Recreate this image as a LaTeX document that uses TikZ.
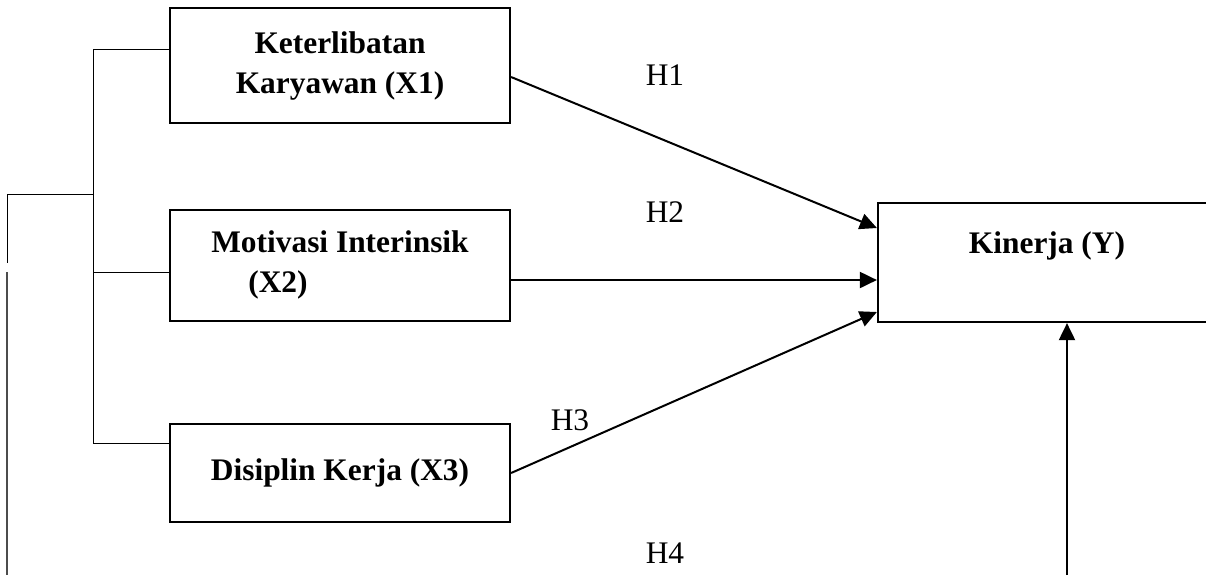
\documentclass[tikz,border=0pt]{standalone}
\usepackage{fontspec}
\setmainfont{Liberation Serif}
\usetikzlibrary{arrows.meta, positioning, calc}

\begin{document}
\begin{tikzpicture}[x=0.5pt, y=-0.5pt,
    varbox/.style={draw, line width=1.1pt, inner sep=0pt, align=center,
      font=\fontsize{15.7}{20}\selectfont\bfseries},
    hlabel/.style={inner sep=0pt, font=\fontsize{15.7}{20}\selectfont},
    link/.style={line width=0.5pt},
    arr/.style={line width=1pt, -{Triangle[length=8.5pt, width=8pt]}}]
  \useasboundingbox (0,0) rectangle (1206,575);

  % variabel bebas
  \node[varbox, minimum width=170pt, minimum height=57.5pt] (x1) at (340,65.5)
    {Keterlibatan\\Karyawan (X1)};
  \node[varbox, minimum width=170pt, minimum height=55.7pt, align=left] (x2) at (340,265.3)
    {Motivasi Interinsik\\\hspace*{18.5pt}(X2)};
  \node[varbox, minimum width=170pt, minimum height=49pt] (x3) at (340,473)
    {Disiplin Kerja (X3)};
  % variabel terikat
  \node[varbox, minimum width=169pt, minimum height=59.5pt] (y) at (1047,262.5)
    {Kinerja (Y)\\\mbox{}};

  % kurung kiri
  \coordinate (kt) at (93,49);
  \coordinate (km) at (93,272);
  \coordinate (kb) at (93,443);
  \coordinate (ko) at (93,194);
  \draw[link] (kt) -- (kb);
  \draw[link] (kt) -- (kt -| x1.west);
  \draw[link] (km) -- (km -| x2.west);
  \draw[link] (kb) -- (kb -| x3.west);
  \draw[link] (ko) -- (7,194) -- (7,263);
  \draw[link, black!70, line width=0.75pt] (7,272) -- (7,575);

  % hipotesis
  \coordinate (t1) at ([yshift=17.25pt]y.west);
  \coordinate (t2) at ([yshift=-8.75pt]y.west);
  \coordinate (t3) at ([yshift=-24.75pt]y.west);
  \coordinate (s4) at (1067,575);
  \draw[arr] ([yshift=-5.75pt]x1.east) -- (t1);
  \draw[arr] (t2 -| x2.east) -- (t2);
  \draw[arr] (x3.east) -- (t3);
  \draw[arr] (s4) -- (s4 |- y.south);

  \node[hlabel] (h1) at (665,75) {H1};
  \node[hlabel] (h2) at (665,212) {H2};
  \node[hlabel] (h3) at (570,420) {H3};
  \node[hlabel] (h4) at (665,553) {H4};
\end{tikzpicture}
\end{document}
